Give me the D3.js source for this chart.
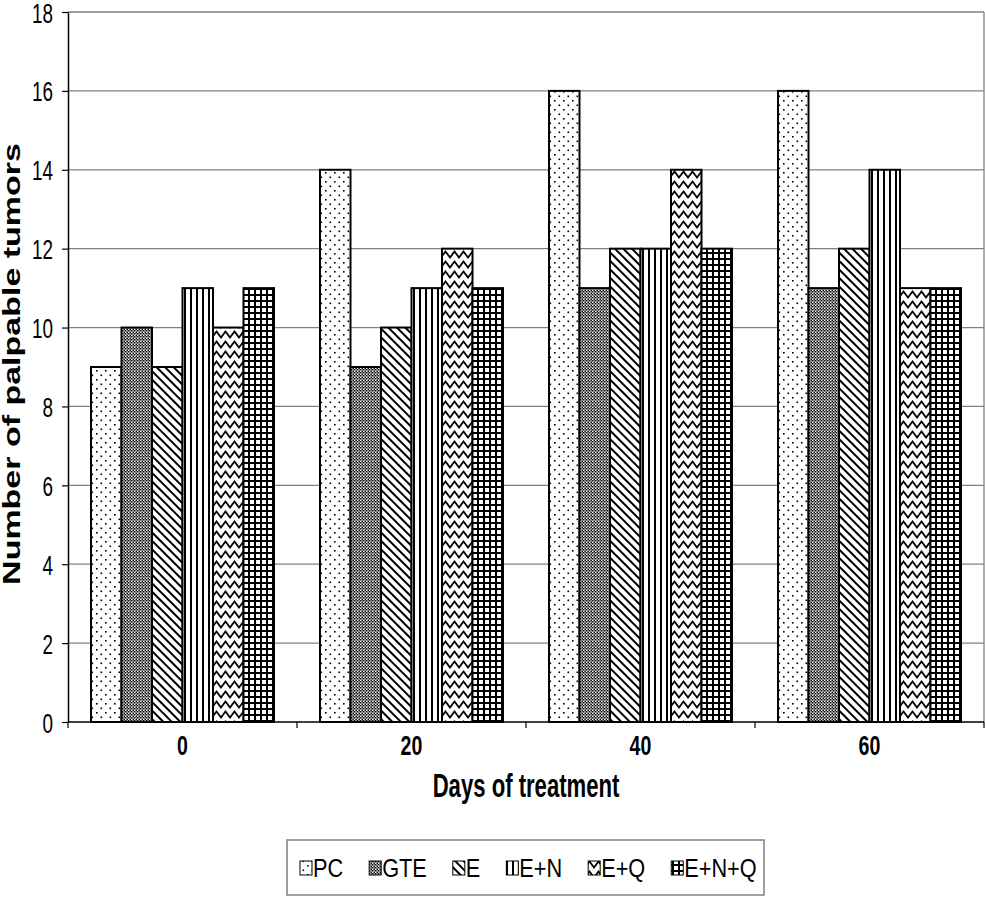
<!DOCTYPE html>
<html><head><meta charset="utf-8">
<script src="https://cdn.jsdelivr.net/npm/d3@7"></script>
<style>
html,body{margin:0;padding:0;background:#fff;}
svg{display:block;font-family:"Liberation Sans",Arial,sans-serif;}
</style></head>
<body>
<svg id="chart" width="985" height="907"></svg>
<script>
// ---- data ----
const categories = ["0", "20", "40", "60"];
const seriesNames = ["PC", "GTE", "E", "E+N", "E+Q", "E+N+Q"];
const PC     = [9, 14, 16, 16];
const GTE    = [10, 9, 11, 11];
const E      = [9, 10, 12, 12];
const EN     = [11, 11, 12, 14];
const EQ     = [10, 12, 14, 11];
const ENQ    = [11, 11, 12, 11];
const yTicks = [0, 2, 4, 6, 8, 10, 12, 14, 16, 18];
const xTitle = "Days of treatment";
const yTitle = "Number of palpable tumors";

const seriesValues = [PC, GTE, E, EN, EQ, ENQ];
const patternIds = ["pPC", "pGTE", "pE", "pEN", "pEQ", "pENQ"];

const svg = d3.select("#chart");
const defs = svg.append("defs");

// patterns
function pat(id, w, h, tf) {
  const p = defs.append("pattern").attr("id", id).attr("patternUnits", "userSpaceOnUse")
    .attr("width", w).attr("height", h);
  if (tf) p.attr("patternTransform", tf);
  p.append("rect").attr("width", w).attr("height", h).attr("fill", "#fff");
  return p;
}
let p;
p = pat("pPC", 9, 9);
p.append("rect").attr("x", 1).attr("y", 1).attr("width", 1.6).attr("height", 1.6).attr("fill", "#000");
p.append("rect").attr("x", 5.5).attr("y", 5.5).attr("width", 1.6).attr("height", 1.6).attr("fill", "#000");
p = pat("pGTE", 3, 3);
p.append("rect").attr("x", 0).attr("y", 0).attr("width", 1.5).attr("height", 1.5).attr("fill", "#000");
p.append("rect").attr("x", 1.5).attr("y", 1.5).attr("width", 1.5).attr("height", 1.5).attr("fill", "#000");
p.append("rect").attr("x", 1.5).attr("y", 0).attr("width", 1.5).attr("height", 1.5).attr("fill", "#888");
p = pat("pE", 6, 6, "rotate(-45)");
p.append("rect").attr("x", 0).attr("y", 0).attr("width", 2).attr("height", 6).attr("fill", "#000");
p = pat("pEN", 6, 6);
p.append("rect").attr("x", 2).attr("y", 0).attr("width", 2).attr("height", 6).attr("fill", "#000");
p = pat("pEQ", 9, 10);
p.append("path").attr("d", "M-2.25,4.5 L0,7.5 L4.5,1.5 L9,7.5 L11.25,4.5").attr("fill", "none")
  .attr("stroke", "#000").attr("stroke-width", 1.8);
p = pat("pENQ", 6, 6);
p.append("rect").attr("x", 0).attr("y", 0).attr("width", 2).attr("height", 6).attr("fill", "#000");
p.append("rect").attr("x", 0).attr("y", 0).attr("width", 6).attr("height", 2).attr("fill", "#000");

// layout
const L = 68, R = 984, T = 12, B = 722;
const y = d3.scaleLinear().domain([0, 18]).range([B, T]);
const x0 = d3.scaleBand().domain(categories).range([L, R]).padding(0);
const x1 = d3.scaleBand().domain(seriesNames).range([23, x0.bandwidth() - 23]).padding(0);

// gridlines
svg.append("g").selectAll("line").data(yTicks.filter(d => d > 0)).join("line")
  .attr("x1", L).attr("x2", R).attr("y1", d => y(d)).attr("y2", d => y(d))
  .attr("stroke", "#808080").attr("stroke-width", 1.3);
// right border
svg.append("line").attr("x1", R).attr("x2", R).attr("y1", T).attr("y2", B)
  .attr("stroke", "#808080").attr("stroke-width", 1.3);

// bars
const groups = svg.append("g").selectAll("g").data(categories).join("g")
  .attr("transform", c => `translate(${x0(c)},0)`);
groups.selectAll("rect").data((c, i) => seriesNames.map((s, j) => ({ s, j, v: seriesValues[j][i] })))
  .join("rect")
  .attr("x", d => x1(d.s)).attr("width", x1.bandwidth())
  .attr("y", d => y(d.v)).attr("height", d => y(0) - y(d.v))
  .attr("fill", d => `url(#${patternIds[d.j]})`)
  .attr("stroke", "#000").attr("stroke-width", 2);

// y axis
const yAxis = svg.append("g").attr("transform", `translate(${L},0)`)
  .call(d3.axisLeft(y).tickValues(yTicks).tickSize(6).tickSizeOuter(0).tickFormat(d3.format("d")));
yAxis.select(".domain").attr("stroke", "#000").attr("stroke-width", 1.5);
yAxis.selectAll(".tick line").attr("stroke", "#000").attr("stroke-width", 1.2);
yAxis.selectAll(".tick text").attr("x", null).attr("dy", null)
  .attr("font-size", 27).attr("fill", "#000").attr("text-anchor", "end")
  .attr("font-family", "Liberation Sans, Arial, sans-serif")
  .attr("transform", "translate(-15,10) scale(0.7,1)");

// x axis
svg.append("line").attr("x1", L).attr("x2", R).attr("y1", B).attr("y2", B)
  .attr("stroke", "#000").attr("stroke-width", 1.5);
const bounds = categories.map(c => x0(c)).concat([x0(categories[categories.length - 1]) + x0.bandwidth()]);
svg.append("g").selectAll("line").data(bounds).join("line")
  .attr("x1", d => d).attr("x2", d => d).attr("y1", B).attr("y2", B + 6)
  .attr("stroke", "#000").attr("stroke-width", 1.2);
svg.append("g").selectAll("text").data(categories).join("text")
  .attr("transform", c => `translate(${x0(c) + x0.bandwidth() / 2},755) scale(0.7,1)`)
  .attr("text-anchor", "middle").attr("font-size", 28).attr("font-weight", "bold")
  .text(c => c);

// titles
svg.append("text").attr("transform", "translate(526,797) scale(0.66,1)")
  .attr("text-anchor", "middle").attr("font-size", 33.5).attr("font-weight", "bold").text(xTitle);
svg.append("text").attr("transform", "translate(20,364) rotate(-90) scale(1,0.72)")
  .attr("text-anchor", "middle").attr("font-size", 34).attr("font-weight", "bold").text(yTitle);

// legend
svg.append("rect").attr("x", 287).attr("y", 840).attr("width", 477).attr("height", 55)
  .attr("fill", "#fff").attr("stroke", "#808080").attr("stroke-width", 1.5);
let lx = 300;
seriesNames.forEach((s, j) => {
  svg.append("rect").attr("x", lx).attr("y", 861).attr("width", 12).attr("height", 14)
    .attr("fill", `url(#${patternIds[j]})`).attr("stroke", "#000").attr("stroke-width", 1);
  const t = svg.append("text").attr("transform", `translate(${lx + 13},877) scale(0.82,1)`)
    .attr("font-size", 26.5).text(s);
  const w = t.node().getComputedTextLength() * 0.82;
  lx = lx + 13 + w + 26;
});
</script>
</body></html>
